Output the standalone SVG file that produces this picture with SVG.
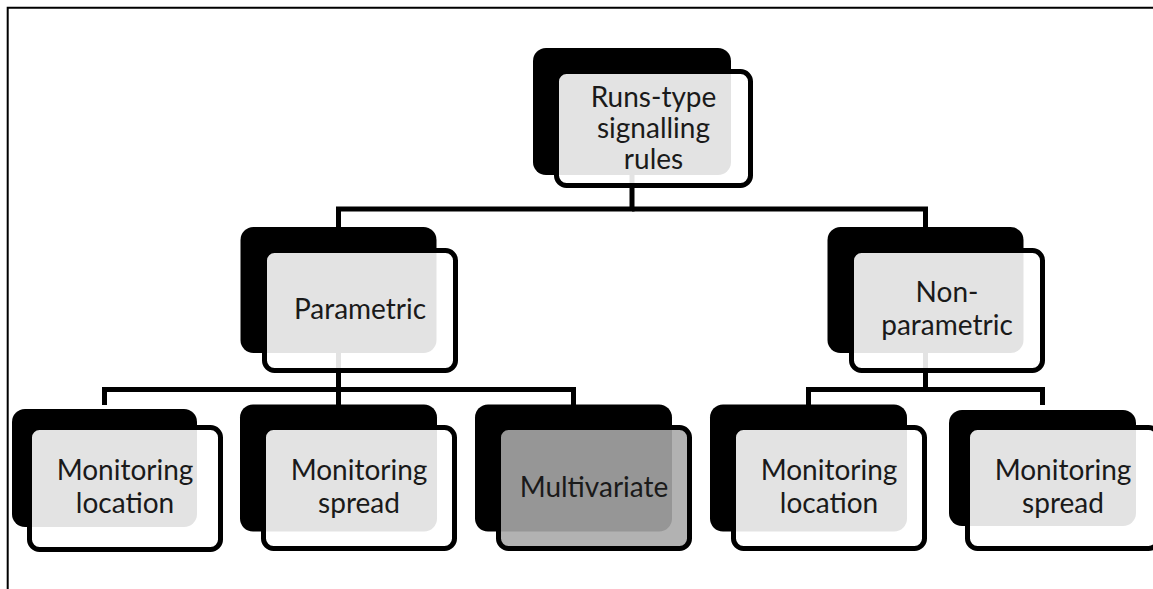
<svg xmlns="http://www.w3.org/2000/svg" width="1153" height="589" viewBox="0 0 1153 589">
<style>
.back{fill:#000}
.front{fill:#fff;fill-opacity:0.89;stroke:#000;stroke-width:5}
.front.dark{fill:#a8a8a8}
.conn{fill:none;stroke:#000;stroke-width:5}
.lbl{font-family:Lato,"Liberation Sans",sans-serif;font-size:28px;fill:#1a1a1a;text-anchor:middle}
</style>
<rect width="1153" height="589" fill="#fff"/>
<path d="M7.7,589 V7.7 H1153" fill="none" stroke="#000" stroke-width="2"/>
<g id="connectors">
<path class="conn" d="M632,170 V209 H338.5 V230"/>
<path class="conn" d="M632,209 H925.5 V230"/>
<path class="conn" d="M338.5,348 V389.5 H104.5 V405"/>
<path class="conn" d="M338.5,389.5 V407"/>
<path class="conn" d="M338.5,389.5 H573.5 V407"/>
<path class="conn" d="M925.5,348 V389.5 H808.5 V407"/>
<path class="conn" d="M925.5,389.5 H1042.5 V405"/>
</g>
<g id="node-root">
<rect class="back" x="533" y="48" width="198" height="127" rx="13"/>
<rect class="front" x="556.5" y="71.5" width="194" height="114" rx="10"/>
<text class="lbl" x="653.5" y="107">Runs-type</text>
<text class="lbl" x="653.5" y="138">signalling</text>
<text class="lbl" x="653.5" y="169">rules</text>
</g>
<g id="node-parametric">
<rect class="back" x="240.5" y="227" width="196" height="126" rx="13"/>
<rect class="front" x="264.5" y="250.5" width="191" height="120" rx="10"/>
<text class="lbl" x="360" y="319">Parametric</text>
</g>
<g id="node-nonparametric">
<rect class="back" x="827.5" y="227" width="196" height="126" rx="13"/>
<rect class="front" x="851.5" y="250.5" width="191" height="120" rx="10"/>
<text class="lbl" x="947" y="302">Non-</text>
<text class="lbl" x="947" y="335">parametric</text>
</g>
<g id="node-p-location">
<rect class="back" x="12" y="409" width="185" height="118" rx="13"/>
<rect class="front" x="29.5" y="427.5" width="191" height="122" rx="10"/>
<text class="lbl" x="125" y="480">Monitoring</text>
<text class="lbl" x="125" y="513">location</text>
</g>
<g id="node-p-spread">
<rect class="back" x="240" y="404.5" width="197" height="127" rx="13"/>
<rect class="front" x="263.5" y="427.5" width="191" height="121" rx="10"/>
<text class="lbl" x="359" y="480">Monitoring</text>
<text class="lbl" x="359" y="513">spread</text>
</g>
<g id="node-multivariate">
<rect class="back" x="475" y="404.5" width="197" height="127" rx="13"/>
<rect class="front dark" x="498.5" y="427.5" width="191" height="121" rx="10"/>
<text class="lbl" x="594" y="497">Multivariate</text>
</g>
<g id="node-np-location">
<rect class="back" x="710" y="404.5" width="197" height="127" rx="13"/>
<rect class="front" x="733.5" y="427.5" width="191" height="121" rx="10"/>
<text class="lbl" x="829" y="480">Monitoring</text>
<text class="lbl" x="829" y="513">location</text>
</g>
<g id="node-np-spread">
<rect class="back" x="949" y="410" width="187" height="116" rx="13"/>
<rect class="front" x="967.5" y="427.5" width="191" height="121" rx="10"/>
<text class="lbl" x="1063" y="480">Monitoring</text>
<text class="lbl" x="1063" y="513">spread</text>
</g>
</svg>
